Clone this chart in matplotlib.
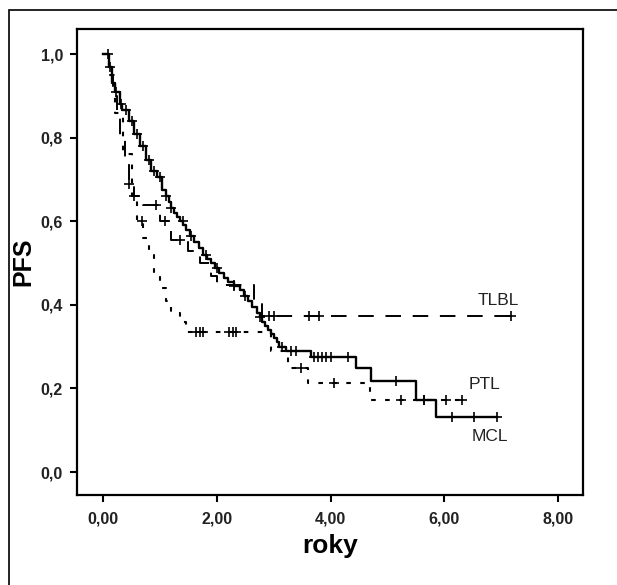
import matplotlib.pyplot as plt
from matplotlib.patches import Rectangle

plt.rcParams['font.family'] = ['Liberation Sans', 'DejaVu Sans']

# Kaplan-Meier step curves (time in years, PFS)
mcl_t = [0.0, 0.06, 0.10, 0.15, 0.20, 0.30, 0.34, 0.45, 0.55, 0.65, 0.76, 0.85, 0.94,
         1.04, 1.10, 1.15, 1.20, 1.25, 1.30, 1.36, 1.41, 1.46, 1.53, 1.60, 1.68, 1.75,
         1.82, 1.90, 1.97, 2.04, 2.12, 2.20, 2.30, 2.40, 2.48, 2.55, 2.62, 2.70, 2.75,
         2.80, 2.85, 2.90, 2.95, 3.00, 3.05, 3.10, 3.22, 3.66, 4.45, 4.71, 5.50, 5.85, 6.92]
mcl_s = [1.00, 1.00, 0.97, 0.93, 0.91, 0.88, 0.866, 0.84, 0.81, 0.78, 0.746, 0.72, 0.706,
         0.675, 0.66, 0.645, 0.632, 0.62, 0.61, 0.60, 0.59, 0.579, 0.565, 0.55, 0.535, 0.52,
         0.51, 0.50, 0.488, 0.476, 0.465, 0.455, 0.445, 0.435, 0.422, 0.41, 0.395, 0.38, 0.37,
         0.36, 0.35, 0.34, 0.33, 0.32, 0.31, 0.30, 0.29, 0.275, 0.249, 0.218, 0.172, 0.132, 0.132]
mcl_cens = [0.08, 0.12, 0.22, 0.32, 0.40, 0.50, 0.60, 0.70, 0.80, 0.90, 1.00, 1.10, 1.20,
            1.40, 1.55, 1.80, 2.00, 2.30, 2.50, 2.75, 3.15, 3.30, 3.40, 3.70, 3.78, 3.85,
            3.92, 4.00, 4.30, 5.15, 5.65, 6.13, 6.52, 6.92]

tlbl_t = [0.0, 0.10, 0.18, 0.25, 0.30, 0.38, 0.45, 0.55, 0.70, 1.00, 1.20, 1.50, 1.70,
          1.90, 2.00, 2.65, 2.80, 7.18]
tlbl_s = [1.00, 0.95, 0.90, 0.85, 0.80, 0.74, 0.69, 0.66, 0.64, 0.60, 0.555, 0.53, 0.50,
          0.47, 0.447, 0.41, 0.373, 0.373]
tlbl_cens = [0.45, 0.55, 0.93, 1.08, 1.35, 2.30, 2.92, 3.00, 3.62, 3.80, 7.18]

ptl_t = [0.0, 0.10, 0.20, 0.35, 0.50, 0.60, 0.70, 0.80, 0.90, 1.00, 1.10, 1.20, 1.35,
         1.45, 2.95, 3.25, 3.60, 4.70, 6.31]
ptl_s = [1.00, 0.95, 0.86, 0.76, 0.66, 0.60, 0.56, 0.52, 0.47, 0.44, 0.41, 0.38, 0.36,
         0.335, 0.29, 0.249, 0.213, 0.172, 0.172]
ptl_cens = [0.69, 1.64, 1.70, 1.75, 2.22, 2.28, 2.34, 3.48, 4.06, 5.24, 5.64, 6.03, 6.31]

x_ticks = [0, 2, 4, 6, 8]
x_labels = ['0,00', '2,00', '4,00', '6,00', '8,00']
y_ticks = [0.0, 0.2, 0.4, 0.6, 0.8, 1.0]
y_labels = ['0,0', '0,2', '0,4', '0,6', '0,8', '1,0']


def surv_at(t, times, surv):
    val = surv[0]
    for ti, si in zip(times, surv):
        if ti <= t:
            val = si
    return val


fig = plt.figure(figsize=(6.17, 5.85), dpi=100)
ax = fig.add_axes([0.1248, 0.1538, 0.8202, 0.7966])

curves = [
    (mcl_t, mcl_s, mcl_cens, '-', 1.7),
    (tlbl_t, tlbl_s, tlbl_cens, (0, (8, 6)), 1.4),
    (ptl_t, ptl_s, ptl_cens, (0, (2.2, 4.5)), 1.5),
]
for times, surv, cens, ls, lw in curves:
    ax.step(times, surv, where='post', color='black', lw=lw, linestyle=ls)
    cy = [surv_at(c, times, surv) for c in cens]
    ax.plot(cens, cy, linestyle='none', marker='+', ms=6.5, mew=1.2, color='black')

ax.text(6.95, 0.41, 'TLBL', fontsize=12.5, ha='center', va='center', color='#222')
ax.text(6.7, 0.21, 'PTL', fontsize=12.5, ha='center', va='center', color='#222')
ax.text(6.8, 0.084, 'MCL', fontsize=12.5, ha='center', va='center', color='#222')

ax.set_xlim(-0.46, 8.44)
ax.set_ylim(-0.055, 1.06)
ax.set_xticks(x_ticks)
ax.set_xticklabels(x_labels)
ax.set_yticks(y_ticks)
ax.set_yticklabels(y_labels)
for lab in ax.get_xticklabels() + ax.get_yticklabels():
    lab.set_fontweight('bold')
    lab.set_fontsize(11.5)
    lab.set_color('#222')
ax.tick_params(direction='out', length=5, width=1.5)
ax.tick_params(axis='x', pad=7)
ax.tick_params(axis='y', pad=5)
for sp in ax.spines.values():
    sp.set_linewidth(1.6)

ax.set_xlabel('roky', fontsize=19, fontweight='bold', labelpad=5)
ax.set_ylabel('PFS', fontsize=18, fontweight='bold', labelpad=4)

# outer frame (only left and top edges visible in the picture)
fig.patches.append(Rectangle((8.5 / 617, -0.05), 1.1, (585 - 9.5) / 585 + 0.05,
                             transform=fig.transFigure, fill=False, lw=1.2,
                             edgecolor='black'))

fig.savefig('out.png', dpi=100)
